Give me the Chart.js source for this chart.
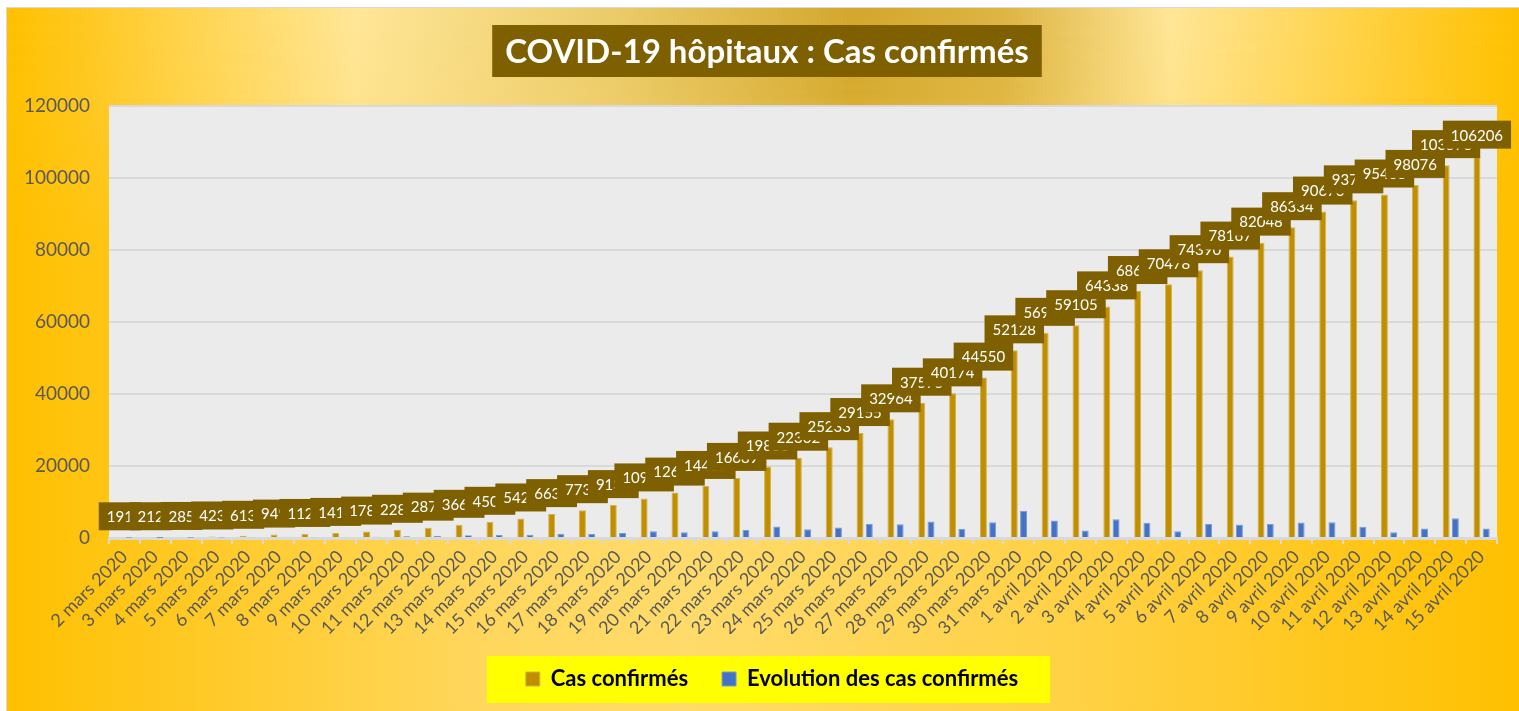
<!DOCTYPE html>
<html lang="fr">
<head>
<meta charset="utf-8">
<title>COVID-19 hôpitaux : Cas confirmés</title>
<script src="https://cdn.jsdelivr.net/npm/chart.js@4.4.1/dist/chart.umd.min.js"></script>
<style>
  html, body { margin: 0; padding: 0; background: #fff; }
  #wrap { width: 1519px; height: 711px; }
</style>
</head>
<body>
<div id="wrap"><canvas id="chart" width="1519" height="711"></canvas></div>
<script>
// --- data ---
const dates = [
  "2 mars 2020", "3 mars 2020", "4 mars 2020", "5 mars 2020", "6 mars 2020",
  "7 mars 2020", "8 mars 2020", "9 mars 2020", "10 mars 2020", "11 mars 2020",
  "12 mars 2020", "13 mars 2020", "14 mars 2020", "15 mars 2020", "16 mars 2020",
  "17 mars 2020", "18 mars 2020", "19 mars 2020", "20 mars 2020", "21 mars 2020",
  "22 mars 2020", "23 mars 2020", "24 mars 2020", "25 mars 2020", "26 mars 2020",
  "27 mars 2020", "28 mars 2020", "29 mars 2020", "30 mars 2020", "31 mars 2020",
  "1 avril 2020", "2 avril 2020", "3 avril 2020", "4 avril 2020", "5 avril 2020",
  "6 avril 2020", "7 avril 2020", "8 avril 2020", "9 avril 2020", "10 avril 2020",
  "11 avril 2020", "12 avril 2020", "13 avril 2020", "14 avril 2020", "15 avril 2020"
];

const casConfirmes = [
  191, 212, 285, 423, 613, 949, 1126, 1412, 1784, 2281,
  2876, 3661, 4500, 5423, 6633, 7730, 9134, 10995, 12612, 14459,
  16689, 19856, 22302, 25233, 29155, 32964, 37575, 40174, 44550, 52128,
  56989, 59105, 64338, 68605, 70478, 74390, 78167, 82048, 86334, 90676,
  93790, 95403, 98076, 103573, 106206
];

const evolution = [
  61, 21, 73, 138, 190, 336, 177, 286, 372, 497,
  595, 785, 838, 924, 1210, 1097, 1404, 1861, 1617, 1847,
  2230, 3167, 2446, 2931, 3922, 3809, 4611, 2599, 4376, 7578,
  4861, 2116, 5233, 4267, 1873, 3912, 3777, 3881, 4286, 4342,
  3114, 1613, 2673, 5497, 2633
];

const yTicks = [0, 20000, 40000, 60000, 80000, 100000, 120000];

const titre = "COVID-19 hôpitaux : Cas confirmés";
const nomsSeries = ["Cas confirmés", "Evolution des cas confirmés"];

Chart.defaults.font.family = "Lato";

// background, plot area, legend box and title box
const fondPlugin = {
  id: "fond",
  afterUpdate(chart) {
    // centre the legend under the title rather than the padded area
    const lg = chart.legend;
    const dx = 16;
    lg.left += dx;
    lg.right += dx;
    lg.legendHitBoxes.forEach(h => { h.left += dx; });
  },
  beforeDraw(chart) {
    const { ctx, width, height, chartArea: a } = chart;
    ctx.save();
    ctx.fillStyle = "#ffffff";
    ctx.fillRect(0, 0, width, height);

    const base = ctx.createLinearGradient(7, 0, width, 0);
    base.addColorStop(0, "#FFC000");
    base.addColorStop(0.3, "#FFD65A");
    base.addColorStop(0.45, "#FFDB6B");
    base.addColorStop(0.72, "#FFD042");
    base.addColorStop(1, "#FFC000");
    ctx.fillStyle = base;
    ctx.fillRect(7, 8, width - 7, height - 8);

    // darker gold band along the top, fading downwards
    const off = document.createElement("canvas");
    off.width = width;
    off.height = height;
    const o = off.getContext("2d");
    const band = o.createLinearGradient(7, 0, width, 0);
    band.addColorStop(0, "#FFC000");
    band.addColorStop(0.23, "#FFE699");
    band.addColorStop(0.4, "#EBCB6A");
    band.addColorStop(0.56, "#D2A62C");
    band.addColorStop(0.66, "#DDB443");
    band.addColorStop(0.77, "#FFE699");
    band.addColorStop(1, "#FFC000");
    o.fillStyle = band;
    o.fillRect(0, 0, width, height);
    o.globalCompositeOperation = "destination-in";
    const fade = o.createLinearGradient(0, 0, 0, 240);
    fade.addColorStop(0, "rgba(0,0,0,1)");
    fade.addColorStop(0.4, "rgba(0,0,0,0.9)");
    fade.addColorStop(1, "rgba(0,0,0,0)");
    o.fillStyle = fade;
    o.fillRect(0, 0, width, height);
    ctx.drawImage(off, 7, 8, width - 7, height - 8, 7, 8, width - 7, height - 8);

    ctx.strokeStyle = "#D9D9D9";
    ctx.lineWidth = 1;
    ctx.strokeRect(6.5, 7.5, width, height);

    // plot area
    ctx.fillStyle = "#EBEBEB";
    ctx.fillRect(a.left, a.top, a.right - a.left, a.bottom - a.top);

    // legend box
    const hb = chart.legend.legendHitBoxes;
    if (hb && hb.length) {
      const first = hb[0], last = hb[hb.length - 1];
      const x0 = first.left - 39;
      const x1 = last.left + last.width + 32;
      ctx.fillStyle = "#FFFF00";
      ctx.fillRect(x0, first.top - 12, x1 - x0, first.height + 25);
    }

    // title
    ctx.font = "bold 33px Lato";
    const tw = ctx.measureText(titre).width;
    const cx = 767, cy = 51;
    ctx.fillStyle = "#7F6000";
    ctx.fillRect(cx - tw / 2 - 13, 25, tw + 26, 52);
    ctx.fillStyle = "#ffffff";
    ctx.textAlign = "center";
    ctx.textBaseline = "middle";
    ctx.fillText(titre, cx, cy + 1);
    ctx.restore();
  }
};

// boxed value labels above the gold bars
const etiquettesPlugin = {
  id: "etiquettes",
  afterDatasetsDraw(chart) {
    const { ctx } = chart;
    const meta = chart.getDatasetMeta(0);
    ctx.save();
    ctx.font = "15px Lato";
    ctx.textAlign = "center";
    ctx.textBaseline = "middle";
    meta.data.forEach((bar, i) => {
      const txt = String(casConfirmes[i]);
      const w = ctx.measureText(txt).width + 16;
      const h = 28;
      const x = bar.x - w / 2;
      const y = bar.y - 7 - h;
      ctx.fillStyle = "#7F6000";
      ctx.fillRect(x, y, w, h);
      ctx.fillStyle = "#ffffff";
      ctx.fillText(txt, bar.x, y + h / 2 + 1);
    });
    ctx.restore();
  }
};

const ctx = document.getElementById("chart").getContext("2d");

new Chart(ctx, {
  type: "bar",
  data: {
    labels: dates,
    datasets: [
      {
        label: nomsSeries[0],
        data: casConfirmes,
        backgroundColor: "#BF8F00",
        borderColor: "#D4B24C",
        borderWidth: 1,
        barPercentage: 0.75,
        categoryPercentage: 0.6
      },
      {
        label: nomsSeries[1],
        data: evolution,
        backgroundColor: "#4472C4",
        borderColor: "#7B9BD6",
        borderWidth: 1,
        barPercentage: 0.75,
        categoryPercentage: 0.6
      }
    ]
  },
  options: {
    responsive: false,
    animation: false,
    layout: {
      padding: { left: 15, right: 22, top: 106, bottom: 11 }
    },
    plugins: {
      legend: {
        position: "bottom",
        labels: {
          font: { family: "Lato", size: 22, weight: "bold" },
          color: "#000000",
          boxWidth: 14,
          boxHeight: 14,
          padding: 34
        }
      },
      title: { display: false },
      tooltip: { enabled: false }
    },
    scales: {
      x: {
        offset: true,
        afterFit(scale) { scale.height = 96; },
        ticks: {
          autoSkip: false,
          minRotation: 45,
          maxRotation: 45,
          padding: 2,
          font: { family: "Lato", size: 18 },
          color: "#595959"
        },
        grid: {
          offset: true,
          drawOnChartArea: false,
          drawTicks: true,
          tickLength: 6,
          color: "#D9D9D9",
          lineWidth: 2
        },
        border: { color: "#D9D9D9", width: 3 }
      },
      y: {
        min: 0,
        max: 120000,
        afterFit(scale) { scale.width = 94; },
        afterBuildTicks(scale) { scale.ticks = yTicks.map(v => ({ value: v })); },
        ticks: {
          padding: 19,
          font: { family: "Lato", size: 19 },
          color: "#595959",
          callback: v => String(v)
        },
        grid: {
          drawTicks: false,
          color: "#D9D9D9",
          lineWidth: 2
        },
        border: { display: false }
      }
    }
  },
  plugins: [fondPlugin, etiquettesPlugin]
});
</script>
</body>
</html>
